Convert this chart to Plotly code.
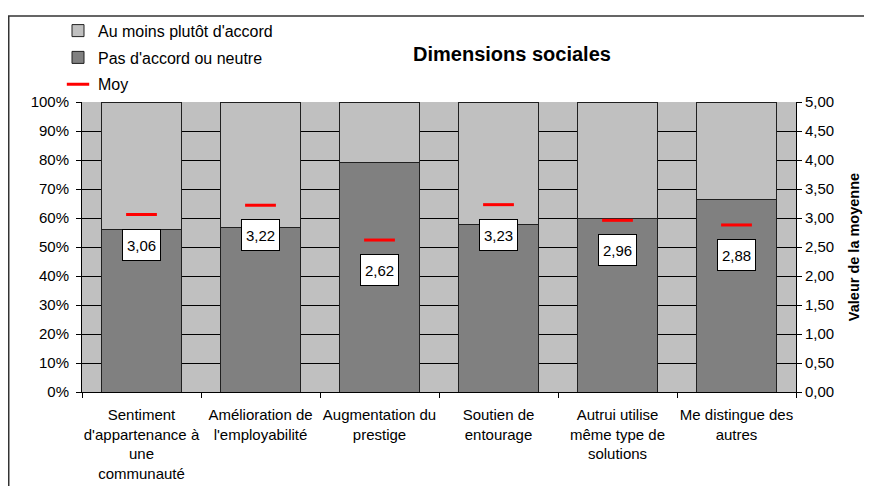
import plotly.graph_objects as go

categories = [
    "Sentiment<br>d'appartenance à<br>une<br>communauté",
    "Amélioration de<br>l'employabilité",
    "Augmentation du<br>prestige",
    "Soutien de<br>entourage",
    "Autrui utilise<br>même type de<br>solutions",
    "Me distingue des<br>autres",
]
pas_accord = [0.559, 0.567, 0.791, 0.579, 0.598, 0.663]
au_moins_accord = [0.441, 0.433, 0.209, 0.421, 0.402, 0.337]
moyenne = [3.06, 3.22, 2.62, 3.23, 2.96, 2.88]

FONT = "Liberation Sans, Arial, sans-serif"
LIGHT = "#C0C0C0"
DARK = "#808080"

fig = go.Figure()
fig.add_trace(go.Bar(
    x=categories, y=pas_accord, name="Pas d'accord ou neutre",
    marker=dict(color=DARK, line=dict(color="#202020", width=1)),
    legendrank=2, legendgroup="b", hoverinfo="skip",
))
fig.add_trace(go.Bar(
    x=categories, y=au_moins_accord, name="Au moins plutôt d'accord",
    marker=dict(color=LIGHT, line=dict(color="#202020", width=1)),
    legendrank=1, legendgroup="a", hoverinfo="skip",
))
fig.add_trace(go.Scatter(
    x=categories, y=moyenne, name="Moy", yaxis="y2", mode="markers",
    marker=dict(symbol="line-ew", size=22, line=dict(color="#FF0000", width=3), color="#FF0000"),
    legendrank=3, legendgroup="c", hoverinfo="skip",
))

for c, m in zip(categories, moyenne):
    fig.add_annotation(
        x=c, y=m, xref="x", yref="y2", yshift=-30,
        text=f"{m:.2f}".replace(".", ","), showarrow=False,
        font=dict(family=FONT, size=15, color="black"),
        bgcolor="white", bordercolor="black", borderwidth=1, borderpad=4,
        height=22,
    )

# outer chart frame
fig.add_shape(type="rect", xref="paper", yref="paper",
              x0=-0.1026, x1=1.2, y0=-0.5, y1=1.2966,
              line=dict(color="#333333", width=1.5), fillcolor="rgba(0,0,0,0)", layer="below")

fig.update_layout(
    width=872, height=486,
    margin=dict(l=74, r=84, t=94, b=102, autoexpand=False),
    paper_bgcolor="white", plot_bgcolor=LIGHT,
    barmode="stack", bargap=0.336,
    separators=", ",
    font=dict(family=FONT, size=15, color="black"),
    title=dict(text="<b>Dimensions sociales</b>", x=504 / 872, xanchor="center",
               y=1 - 46 / 486, yanchor="middle", font=dict(size=20, family=FONT, color="black")),
    legend=dict(x=-0.0336, xanchor="left", y=1.3045, yanchor="top",
                bgcolor="rgba(0,0,0,0)", font=dict(size=16, family=FONT),
                tracegroupgap=3, itemwidth=30),
    xaxis=dict(type="category", range=[-0.5, 5.5], tickson="boundaries",
               ticks="outside", ticklen=5, tickcolor="black", showline=True,
               linecolor="black", linewidth=1, showgrid=False, tickangle=0,
               automargin=False, tickfont=dict(size=15), ticklabelstandoff=9),
    yaxis=dict(range=[0, 1], dtick=0.1, tickformat=".0%", showgrid=True,
               gridcolor="black", gridwidth=1, showline=True, linecolor="black",
               ticks="outside", ticklen=5, tickcolor="black", zeroline=False,
               automargin=False, tickfont=dict(size=15), ticklabelstandoff=4),
    yaxis2=dict(overlaying="y", side="right", range=[0, 5], dtick=0.5,
                tickformat=".2f", showgrid=False, showline=True, linecolor="black",
                ticks="outside", ticklen=5, tickcolor="black", zeroline=False,
                automargin=False, tickfont=dict(size=15),
                title=dict(text="<b>Valeur de la moyenne</b>", font=dict(size=14.5), standoff=15)),
)

fig.write_html("out.html")
